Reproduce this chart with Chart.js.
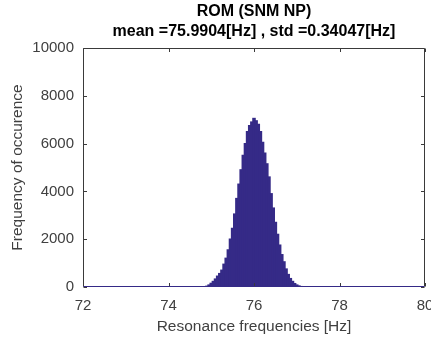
<!DOCTYPE html>
<html>
<head>
<meta charset="utf-8">
<script src="https://cdn.jsdelivr.net/npm/chart.js@4/dist/chart.umd.min.js"></script>
<style>
  html, body { margin: 0; padding: 0; background: #fff; }
</style>
</head>
<body>
<canvas id="romHist" width="431" height="341"></canvas>
<script>
// Data (bin centres in Hz, counts per bin)
const binCenters = [74.80, 74.85, 74.90, 74.95, 75.00, 75.05, 75.10, 75.15, 75.20, 75.25,
                    75.30, 75.35, 75.40, 75.45, 75.50, 75.55, 75.60, 75.65, 75.70, 75.75,
                    75.80, 75.85, 75.90, 75.95, 76.00, 76.05, 76.10, 76.15, 76.20, 76.25,
                    76.30, 76.35, 76.40, 76.45, 76.50, 76.55, 76.60, 76.65, 76.70, 76.75,
                    76.80, 76.85, 76.90, 76.95, 77.00, 77.05, 77.10, 77.15];
const counts = [0, 10, 30, 80, 150, 230, 330, 450, 560, 700,
                950, 1200, 1550, 2000, 2450, 3050, 3700, 4300, 4900, 5500,
                6000, 6500, 6750, 6900, 7050, 6950, 6800, 6500, 6050, 5600,
                5150, 4600, 3900, 3300, 2700, 2200, 1750, 1350, 1050, 750,
                520, 350, 230, 140, 80, 40, 15, 5];
const xTicks = [72, 74, 76, 78, 80];
const yTicks = [0, 2000, 4000, 6000, 8000, 10000];
const titleLines = ['ROM (SNM NP)', 'mean =75.9904[Hz] , std =0.34047[Hz]'];
const xLabel = 'Resonance frequencies [Hz]';
const yLabel = 'Frequency of occurence';

const barColor = '#352a87',
      axisColor = '#3a3a3a',
      textColor = '#404040',
      fontFamily = "'Liberation Sans', Arial, Helvetica, sans-serif";

// MATLAB-style box with inward ticks, plus the navy baseline of the histogram
const boxAxes = {
  id: 'boxAxes',
  afterDatasetsDraw(chart) {
    const { ctx, chartArea: a, scales: { x, y } } = chart;
    const L = Math.round(a.left) + 0.5, R = Math.round(a.right) - 0.5,
          T = Math.round(a.top) + 0.5, B = Math.round(a.bottom) - 0.5,
          tl = 3.5;
    ctx.save();
    ctx.lineWidth = 1;
    ctx.strokeStyle = axisColor;
    ctx.beginPath();
    ctx.moveTo(L, B); ctx.lineTo(L, T); ctx.lineTo(R, T); ctx.lineTo(R, B);
    xTicks.forEach(v => {
      const px = Math.round(x.getPixelForValue(v)) + 0.5;
      ctx.moveTo(px, B); ctx.lineTo(px, B - tl);
      ctx.moveTo(px, T); ctx.lineTo(px, T + tl);
    });
    yTicks.forEach(v => {
      const py = Math.round(y.getPixelForValue(v)) + 0.5;
      ctx.moveTo(L, py); ctx.lineTo(L + tl, py);
      ctx.moveTo(R, py); ctx.lineTo(R - tl, py);
    });
    ctx.stroke();
    // zero-height bins across the whole range show as a navy baseline
    ctx.strokeStyle = barColor;
    ctx.beginPath();
    ctx.moveTo(L, B); ctx.lineTo(R, B);
    ctx.stroke();
    ctx.restore();
  }
};

const histChart = new Chart(document.getElementById('romHist'), {
  type: 'bar',
  data: {
    datasets: [{
      data: binCenters.map((c, i) => ({ x: c, y: counts[i] })),
      backgroundColor: barColor,
      borderWidth: 0,
      barPercentage: 1,
      categoryPercentage: 1,
      inflateAmount: 0.7
    }]
  },
  options: {
    responsive: false,
    devicePixelRatio: 1,
    animation: false,
    layout: { padding: { left: 0, right: 6, top: 0, bottom: 0 } },
    plugins: {
      legend: { display: false },
      tooltip: { enabled: false },
      title: {
        display: true,
        fullSize: false,
        text: titleLines,
        color: '#000',
        font: { family: fontFamily, size: 16, weight: 'bold', lineHeight: 1.25 },
        padding: { top: 2, bottom: 6 }
      }
    },
    scales: {
      x: {
        type: 'linear',
        min: 72, max: 80,
        offset: false,
        afterBuildTicks: s => { s.ticks = xTicks.map(v => ({ value: v })); },
        afterFit: s => { s.height = 54; s.paddingLeft = 0; s.paddingRight = 0; },
        grid: { display: false, drawTicks: false, offset: false },
        border: { display: false },
        ticks: { color: textColor, padding: 10, maxRotation: 0,
                 font: { family: fontFamily, size: 15 } },
        title: { display: true, text: xLabel, color: textColor,
                 font: { family: fontFamily, size: 15.5 }, padding: { top: 0, bottom: 5 } }
      },
      y: {
        min: 0, max: 10000,
        afterBuildTicks: s => { s.ticks = yTicks.map(v => ({ value: v })); },
        afterFit: s => { s.width = 83; s.paddingTop = 0; s.paddingBottom = 0; },
        grid: { display: false, drawTicks: false },
        border: { display: false },
        ticks: { color: textColor, padding: 9,
                 font: { family: fontFamily, size: 15 },
                 callback: v => String(v) },
        title: { display: true, text: yLabel, color: textColor,
                 font: { family: fontFamily, size: 15.5 }, padding: { top: 8, bottom: 0 } }
      }
    }
  },
  plugins: [boxAxes]
});
</script>
</body>
</html>
